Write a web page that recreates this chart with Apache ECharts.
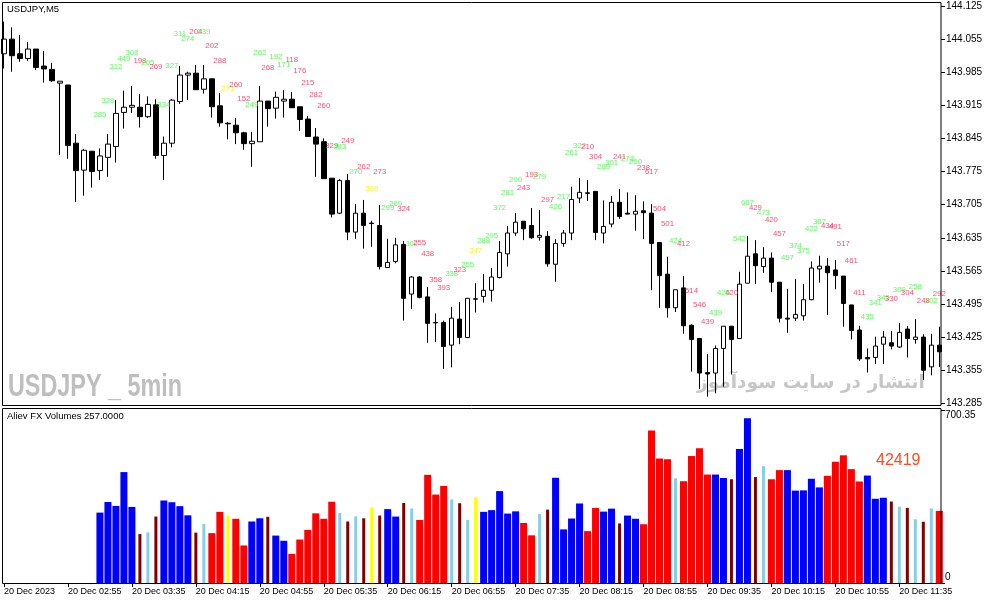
<!DOCTYPE html>
<html><head><meta charset="utf-8">
<script src="https://cdn.jsdelivr.net/npm/echarts@6/dist/echarts.min.js"></script>
<style>html,body{margin:0;padding:0;background:#fff}#c{width:987px;height:605px}</style>
</head><body><div id="c"></div><script>
// ---------- data ----------
const opens = [144.024,144.055,144.024,144.014,144.034,143.998,143.991,143.962,143.958,143.835,
143.778,143.818,143.777,143.805,143.828,143.900,143.911,143.911,143.891,143.916,
143.809,143.835,143.923,143.979,143.983,143.949,143.971,143.914,143.877,143.873,
143.857,143.834,143.838,143.924,143.909,143.924,143.928,143.912,143.886,143.848,
143.838,143.761,143.687,143.756,143.647,143.687,143.666,143.661,143.572,143.585,
143.621,143.516,143.552,143.510,143.456,143.456,143.408,143.463,143.424,143.505,
143.511,143.524,143.551,143.601,143.645,143.670,143.661,143.636,143.638,143.579,
143.623,143.645,143.719,143.730,143.733,143.645,143.664,143.710,143.687,143.685,
143.692,143.687,143.625,143.558,143.487,143.529,143.450,143.422,143.350,143.349,
143.401,143.448,143.422,143.539,143.601,143.574,143.592,143.541,143.465,143.465,
143.470,143.504,143.569,143.575,143.567,143.554,143.493,143.440,143.382,143.382,
143.410,143.413,143.404,143.442,143.420,143.425,143.362,143.408];
const closes = [144.055,144.020,144.014,144.034,143.995,143.992,143.967,143.966,143.830,143.777,
143.820,143.775,143.808,143.833,143.898,143.911,143.915,143.891,143.917,143.809,
143.835,143.926,143.979,143.983,143.948,143.971,143.912,143.878,143.876,143.857,
143.834,143.839,143.924,143.908,143.932,143.928,143.910,143.885,143.849,143.833,
143.760,143.685,143.756,143.647,143.687,143.661,143.665,143.574,143.583,143.620,
143.507,143.552,143.509,143.454,143.455,143.405,143.465,143.424,143.507,143.506,
143.524,143.552,143.604,143.645,143.668,143.654,143.635,143.640,143.580,143.623,
143.645,143.716,143.731,143.729,143.646,143.659,143.710,143.680,143.685,143.691,
143.688,143.623,143.555,143.487,143.525,143.449,143.420,143.349,143.347,143.401,
143.448,143.420,143.537,143.596,143.576,143.592,143.541,143.465,143.463,143.473,
143.504,143.571,143.575,143.561,143.555,143.496,143.439,143.379,143.379,143.406,
143.425,143.406,143.435,143.422,143.425,143.355,143.408,143.394];
const lows = [143.993,143.986,144.007,144.009,143.990,143.963,143.965,143.810,143.802,143.711,
143.724,143.741,143.757,143.764,143.794,143.866,143.899,143.868,143.888,143.802,
143.757,143.826,143.918,143.926,143.948,143.940,143.889,143.870,143.843,143.833,
143.821,143.785,143.838,143.870,143.887,143.889,143.910,143.861,143.849,143.764,
143.760,143.678,143.685,143.630,143.633,143.612,143.616,143.568,143.572,143.581,
143.460,143.484,143.507,143.413,143.415,143.358,143.361,143.410,143.424,143.477,
143.498,143.500,143.549,143.574,143.639,143.630,143.633,143.629,143.574,143.542,
143.616,143.630,143.708,143.713,143.630,143.623,143.657,143.675,143.685,143.650,
143.632,143.524,143.487,143.466,143.478,143.432,143.352,143.315,143.299,143.306,
143.320,143.346,143.422,143.539,143.537,143.561,143.520,143.456,143.434,143.459,
143.460,143.503,143.540,143.472,143.526,143.447,143.420,143.375,143.350,143.368,
143.368,143.399,143.402,143.382,143.411,143.334,143.344,143.362];
const highs = [144.092,144.080,144.064,144.049,144.034,144.030,144.005,143.966,143.958,143.854,
143.823,143.818,143.824,143.854,143.926,143.946,143.956,143.939,143.934,143.928,
143.849,143.928,143.998,143.986,144.000,144.000,143.971,143.941,143.880,143.888,
143.859,143.859,143.956,143.924,143.944,143.947,143.943,143.912,143.892,143.867,
143.845,143.761,143.759,143.770,143.706,143.715,143.671,143.704,143.633,143.635,
143.628,143.554,143.554,143.531,143.475,143.460,143.489,143.499,143.507,143.539,
143.558,143.571,143.628,143.660,143.687,143.670,143.698,143.694,143.649,143.632,
143.651,143.743,143.761,143.757,143.734,143.714,143.723,143.738,143.731,143.725,
143.712,143.706,143.625,143.595,143.525,143.554,143.452,143.423,143.389,143.407,
143.448,143.448,143.563,143.639,143.630,143.615,143.604,143.541,143.527,143.548,
143.537,143.585,143.597,143.592,143.588,143.554,143.493,143.449,143.401,143.426,
143.438,143.438,143.455,143.448,143.463,143.431,143.432,143.447];

// indicator starts at bar 12
const volStart = 12;
const volumes = [285,328,312,449,308,198,205,269,334,327,
311,274,204,239,202,288,271,260,152,249,
262,268,192,171,118,176,215,282,260,329,
283,249,270,262,306,273,299,269,324,302,
255,438,358,393,338,323,255,347,288,295,
372,281,290,243,193,279,297,426,217,261,
322,210,304,289,301,241,273,260,238,617,
504,501,424,412,514,546,439,439,425,420,
542,667,429,473,420,457,457,374,375,422,
387,434,491,517,461,411,435,341,345,330,
309,304,258,248,302,292];
// B blue, R red, M maroon, S skyblue, Y yellow
const volTypes = ('BBBBB'+'MSM'+'BBBB'+'MS'+'RRYRR'+'BBM'+'BB'+'RRRRRR'+'SMSMYM'+'BBMS'+'RRRR'+'SMSY'+
  'BBBBB'+'RRSM'+'BBBB'+'RRBBMBB'+'RRRR'+'S'+'RRRR'+'BBMBBMS'+'RR'+'BBBBB'+'RRRRR'+'BBB'+'MSMSMS'+'R').split('');
// price level at which each volume number is printed
const labelPrice = [143.895,143.925,143.997,144.013,144.026,144.009,144.004,143.997,143.917,143.998,
144.066,144.055,144.070,144.070,144.040,144.009,143.949,143.958,143.929,143.917,
144.026,143.994,144.017,144.000,144.011,143.988,143.962,143.937,143.914,143.830,
143.827,143.840,143.774,143.785,143.738,143.774,143.699,143.706,143.696,143.623,
143.625,143.601,143.546,143.529,143.558,143.567,143.577,143.608,143.628,143.639,
143.698,143.730,143.757,143.740,143.768,143.764,143.716,143.700,143.721,143.814,
143.829,143.827,143.806,143.785,143.793,143.806,143.802,143.795,143.783,143.774,
143.697,143.665,143.629,143.623,143.523,143.493,143.457,143.476,143.518,143.518,
143.632,143.709,143.699,143.687,143.673,143.644,143.592,143.618,143.607,143.654,
143.669,143.660,143.658,143.622,143.586,143.518,143.468,143.497,143.508,143.506,
143.525,143.519,143.532,143.501,143.501,143.517];

const priceTicks = [143.285,143.355,143.425,143.495,143.565,143.635,143.705,143.775,143.845,143.915,143.985,144.055,144.125];
const volTicks = [0, 700.35];
const timeTickLabels = ['20 Dec 2023','20 Dec 02:55','20 Dec 03:35','20 Dec 04:15','20 Dec 04:55','20 Dec 05:35',
  '20 Dec 06:15','20 Dec 06:55','20 Dec 07:35','20 Dec 08:15','20 Dec 08:55','20 Dec 09:35','20 Dec 10:15',
  '20 Dec 10:55','20 Dec 11:35'];
const firstBarMinutes = 2*60+15, barMinutes = 5, labelEvery = 8;

// ---------- build ----------
const N = opens.length;
const categories = [];
for (let i = 0; i < N; i++) {
  const m = firstBarMinutes + barMinutes*i;
  categories.push('20 Dec ' + String(Math.floor(m/60)).padStart(2,'0') + ':' + String(m%60).padStart(2,'0'));
}
const candleData = opens.map((o,i)=>[o, closes[i], lows[i], highs[i]]);
const typeColor = {B:'#0000FF', R:'#FF0000', M:'#800000', S:'#87CEEB', Y:'#FFFF00'};
const labelColor = {B:'#3CF53C', S:'#3CF53C', R:'#FF2050', M:'#FF2050', Y:'#F2F200'};
const wideData = categories.map(()=>'-');
const thinData = categories.map(()=>'-');
volumes.forEach((v,k)=>{
  const i = volStart + k, t = volTypes[k];
  const item = {value: v, itemStyle: {color: typeColor[t]}};
  if (t === 'B' || t === 'R') wideData[i] = item; else thinData[i] = item;
});
const labelData = volumes.map((v,k)=>({
  value: [volStart + k, labelPrice[k]],
  label: {formatter: String(v), color: labelColor[volTypes[k]]}
}));
const everyN = (idx)=> idx % labelEvery === 0;
const FONT = 'Liberation Sans, Arial, sans-serif';

const chart = echarts.init(document.getElementById('c'));
chart.setOption({
  animation: false,
  backgroundColor: '#fff',
  grid: [
    {left: -0.7, top: 2, width: 944, height: 404},
    {left: -0.7, top: 410, width: 944, height: 173}
  ],
  xAxis: [
    {type:'category', gridIndex:0, data:categories, show:false},
    {type:'category', gridIndex:1, data:categories,
      axisLine:{show:false},
      axisTick:{show:true, alignWithLabel:true, interval:everyN, length:4, lineStyle:{color:'#000'}},
      axisLabel:{interval:everyN, align:'left', margin:4, fontSize:9, color:'#000', fontFamily:FONT,
        formatter:(v,idx)=> timeTickLabels[idx/labelEvery] || ''}},
    {type:'category', gridIndex:1, data:categories, show:false}
  ],
  yAxis: [
    {type:'value', gridIndex:0, position:'right', offset:-2.3, min:143.2793, max:144.1335,
      splitLine:{show:false}, axisLine:{show:false},
      axisTick:{show:true, customValues:priceTicks, length:4, lineStyle:{color:'#000'}},
      axisLabel:{customValues:priceTicks, margin:5, fontSize:10, color:'#000', fontFamily:FONT,
        formatter:v=>v.toFixed(3)}},
    {type:'value', gridIndex:1, position:'right', offset:-2.3, min:volTicks[0], max:volTicks[1],
      splitLine:{show:false}, axisLine:{show:false},
      axisTick:{show:true, customValues:volTicks, length:4, lineStyle:{color:'#000'}},
      axisLabel:{customValues:volTicks, margin:4, fontSize:10, color:'#000', fontFamily:FONT,
        formatter:v=> v === 0 ? '{lo|0}' : '{hi|' + v.toFixed(2) + '}',
        rich:{lo:{padding:[0,0,12,0], fontSize:10, fontFamily:FONT}, hi:{padding:[10,0,0,0], fontSize:10, fontFamily:FONT}}}}
  ],
  series: [
    {type:'candlestick', xAxisIndex:0, yAxisIndex:0, data:candleData, barWidth:5,
      itemStyle:{color:'#fff', color0:'#000', borderColor:'#000', borderColor0:'#000', borderColorDoji:'#000', borderWidth:1},
      emphasis:{disabled:true}},
    {type:'scatter', xAxisIndex:0, yAxisIndex:0, data:labelData, symbolSize:1, z:4,
      itemStyle:{color:'rgba(0,0,0,0)'}, silent:true,
      label:{show:true, position:'inside', fontSize:7.8, fontFamily:FONT}},
    {type:'bar', xAxisIndex:1, yAxisIndex:1, data:wideData, barWidth:7, emphasis:{disabled:true}},
    {type:'bar', xAxisIndex:2, yAxisIndex:1, data:thinData, barWidth:3, emphasis:{disabled:true}}
  ],
  graphic: [
    {type:'rect', z:50, shape:{x:2.5, y:2.5, width:938.5, height:403}, style:{fill:null, stroke:'#000', lineWidth:1}},
    {type:'rect', z:50, shape:{x:2.5, y:408.5, width:938.5, height:175}, style:{fill:null, stroke:'#000', lineWidth:1}},
    {type:'text', z:60, left:7, top:4, style:{text:'USDJPY,M5', font:'9.5px '+FONT, fill:'#000'}},
    {type:'text', z:60, left:7, top:411, style:{text:'Aliev FX Volumes 257.0000', font:'9.5px '+FONT, fill:'#000'}},
    {type:'text', z:60, left:876, top:453, style:{text:'42419', font:'16px '+FONT, fill:'#FF4A22'}},
    {type:'text', z:1, x:8, y:371, scaleX:0.73, style:{text:'USDJPY _ 5min', font:'bold 32px "Liberation Sans", sans-serif', fill:'#BEBEBE'}},
    {type:'text', z:1, left:697, top:374, style:{text:'انتشار در سایت سودآموز', font:'bold 18.5px "DejaVu Sans", sans-serif', fill:'#C6C6C6'}}
  ]
});
</script></body></html>
